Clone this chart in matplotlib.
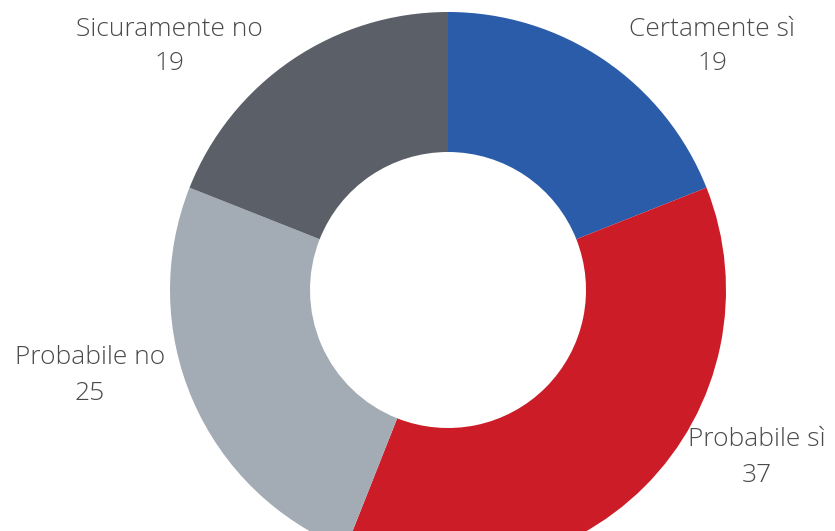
import matplotlib
matplotlib.use("Agg")
import matplotlib.pyplot as plt

categories = ["Certamente sì", "Probabile sì", "Probabile no", "Sicuramente no"]
values = [19, 37, 25, 19]
colors = ["#2b5ca9", "#cc1c27", "#a3abb4", "#5b6068"]

W, H = 835, 531
fig = plt.figure(figsize=(W / 100, H / 100), dpi=100)
ax = fig.add_axes([0, 0, 1, 1])
ax.set_xlim(0, W)
ax.set_ylim(0, H)
ax.set_aspect("equal")
ax.axis("off")

cx, cy, R = 448, H - 290, 278
ax.pie(values, colors=colors, startangle=90, counterclock=False,
       center=(cx, cy), radius=R,
       wedgeprops=dict(width=R - 138, edgecolor="none"))
ax.set_xlim(0, W)
ax.set_ylim(0, H)

# label positions (pixels from top-left)
label_pos = [(712, 29), (757, 440), (90, 358), (169, 29)]
for cat, v, (x, y) in zip(categories, values, label_pos):
    ax.text(x, H - y, cat, ha="center", va="center", fontsize=19,
            family="Open Sans", weight="light", color="#4a4a4a")
    ax.text(x, H - y - 35, str(v), ha="center", va="center", fontsize=19,
            family="Open Sans", weight="light", color="#4a4a4a")

fig.savefig("out.png", dpi=100)
